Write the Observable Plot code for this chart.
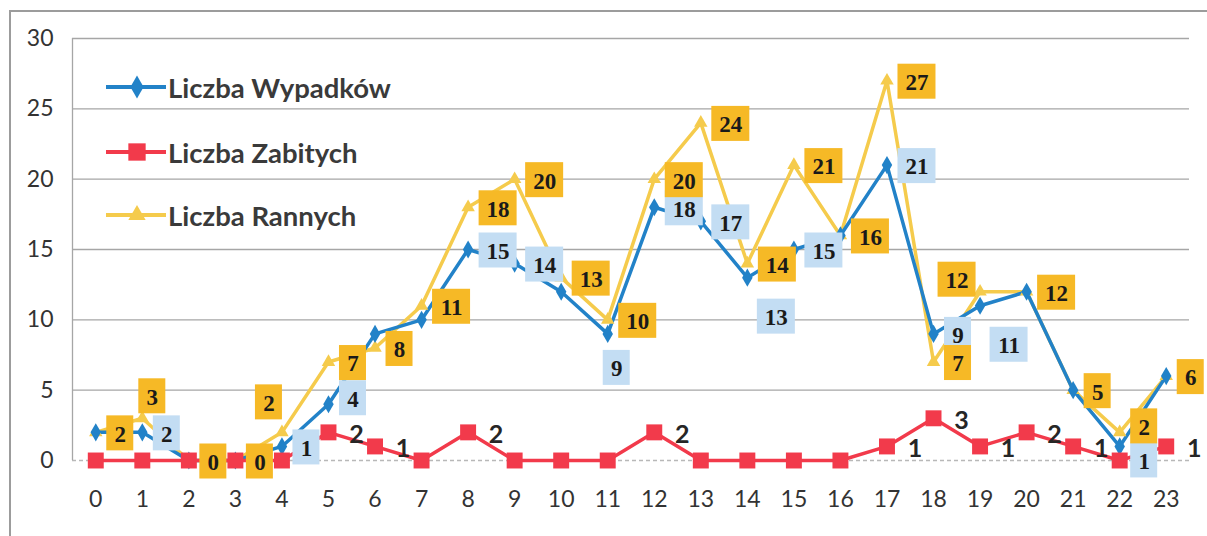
<!DOCTYPE html>
<html><head><meta charset="utf-8">
<script src="https://cdn.jsdelivr.net/npm/d3@7"></script>
<script src="https://cdn.jsdelivr.net/npm/@observablehq/plot@0.6"></script>
<style>
body{margin:0;background:#fff;}
#wrap{position:relative;width:1207px;height:536px;overflow:hidden;}
#chart svg{display:block;}
#border{position:absolute;left:9px;top:10px;right:-4px;bottom:-4px;border-left:2px solid #9c9c9c;border-top:2px solid #9c9c9c;pointer-events:none;}
#legend{position:absolute;left:106px;top:0;font-family:Lato,sans-serif;font-weight:bold;font-size:27.5px;color:#3a3a3a;}
.item{position:absolute;left:0;display:flex;align-items:center;height:32px;white-space:nowrap;}
.item svg{margin-right:2px;}
</style></head>
<body><div id="wrap"><div id="chart"></div><div id="border"></div><div id="legend"></div></div>
<script>
// ---- data ----
const hours   = [0,1,2,3,4,5,6,7,8,9,10,11,12,13,14,15,16,17,18,19,20,21,22,23];
const wypadki = [2,2,0,0,1,4,9,10,15,14,12,9,18,17,13,15,16,21,9,11,12,5,1,6];
const zabici  = [0,0,0,0,0,2,1,0,2,0,0,0,2,0,0,0,0,1,3,1,2,1,0,1];
const ranni   = [2,3,0,0,2,7,8,11,18,20,13,10,20,24,14,21,16,27,7,12,12,5,2,6];
const yTicks  = [0,5,10,15,20,25,30];
const seriesNames = ["Liczba Wypadków","Liczba Zabitych","Liczba Rannych"];
const wypadkiLabelHours = [1,4,5,8,9,11,12,13,14,15,17,18,19,22];

// ---- style ----
const C = {w:"#2282c8", z:"#f23a4b", r:"#f5cb4c", boxR:"#f6b926", boxW:"#c3ddf3"};
const xDomain = [-0.5, 23.5];
const bluePlace = {5:"rightUp", 11:"below", 14:"belowRight", 19:"belowRight", 22:"rightDown"};
const orangePlace = {1:"above", 4:"aboveLeft", 19:"upLeft", 22:"rightUp"};
function offset(place, w){
  switch(place){
    case "above": return [10,-22];
    case "aboveLeft": return [-13,-30];
    case "upLeft": return [-23,-12];
    case "below": return [9,34];
    case "belowRight": return [29,39];
    case "rightUp": return [11 + w/2, -6];
    case "rightDown": return [11 + w/2, 14];
    default: return [11 + w/2, 1];
  }
}

const rows = hours.map((h,i)=>({h, w:wypadki[i], z:zabici[i], r:ranni[i]}));

function labelMarks(sel, key, fill, placeMap){
  const groups = d3.group(sel, d => String(d[key]).length + "|" + (placeMap[d.h] || "right"));
  const marks = [];
  for (const [k, arr] of groups){
    const [len, place] = k.split("|");
    const bw = +len > 1 ? 38 : 27, bh = 35;
    const [dx, dy] = offset(place, bw);
    marks.push(Plot.rect(arr, {x1:"h", x2:"h", y1:key, y2:key,
      insetLeft:-bw/2, insetRight:-bw/2, insetTop:-bh/2, insetBottom:-bh/2, dx, dy, fill}));
    marks.push(Plot.text(arr, {x:"h", y:key, text:d=>String(d[key]), dx, dy:dy+1,
      fontFamily:"Liberation Serif", fontWeight:"bold", fontSize:23, fill:"#1a1a1a"}));
  }
  return marks;
}

const chart = Plot.plot({
  width:1207, height:536,
  marginLeft:72, marginRight:18, marginTop:38, marginBottom:76,
  style:{fontFamily:"Lato, sans-serif", fontSize:"23px", color:"#333", background:"transparent"},
  x:{domain:xDomain, ticks:hours, tickSize:0, tickPadding:30, label:null, tickFormat:d=>String(d)},
  y:{domain:[0,30], ticks:yTicks, tickSize:0, tickPadding:19, label:null},
  marks:[
    Plot.ruleY(yTicks.filter(v=>v>0), {stroke:"#a6a6a6", strokeWidth:1.3}),
    Plot.ruleY([0], {stroke:"#b8b8b8", strokeWidth:1.3, strokeDasharray:"4,3"}),
    Plot.ruleX([xDomain[0]], {y1:0, y2:30, stroke:"#a6a6a6", strokeWidth:1.3}),
    Plot.line(rows, {x:"h", y:"r", stroke:C.r, strokeWidth:3.5}),
    Plot.line(rows, {x:"h", y:"w", stroke:C.w, strokeWidth:3.5}),
    Plot.line(rows, {x:"h", y:"z", stroke:C.z, strokeWidth:3.5}),
    Plot.dot(rows, {x:"h", y:"r", symbol:"triangle", r:5, fill:C.r}),
    Plot.dot(rows, {x:"h", y:"w", symbol:"diamond", r:5.5, fill:C.w}),
    Plot.dot(rows, {x:"h", y:"z", symbol:"square", r:9, fill:C.z}),
    ...labelMarks(rows.filter(d=>wypadkiLabelHours.includes(d.h)), "w", C.boxW, bluePlace),
    ...labelMarks(rows, "r", C.boxR, orangePlace),
    Plot.text(rows.filter(d=>d.z>0), {x:"h", y:"z", text:d=>String(d.z), dx:28, dy:3,
      fontFamily:"Lato, sans-serif", fontWeight:"bold", fontSize:25, fill:"#262626"})
  ]
});
document.getElementById("chart").appendChild(chart);

// ---- legend ----
const legend = document.getElementById("legend");
const legendDefs = [
  {name:seriesNames[0], color:C.w, sym:d3.symbolDiamond, size:150, cy:87},
  {name:seriesNames[1], color:C.z, sym:d3.symbolSquare, size:300, cy:152},
  {name:seriesNames[2], color:C.r, sym:d3.symbolTriangle, size:130, cy:215}
];
for (const L of legendDefs){
  const div = document.createElement("div");
  div.className = "item";
  div.style.top = (L.cy - 16) + "px";
  const s = d3.create("svg").attr("width",60).attr("height",32);
  s.append("line").attr("x1",0).attr("x2",60).attr("y1",16).attr("y2",16)
    .attr("stroke",L.color).attr("stroke-width",4);
  s.append("path").attr("d", d3.symbol(L.sym, L.size)()).attr("transform","translate(31,16)").attr("fill",L.color);
  div.appendChild(s.node());
  const t = document.createElement("span");
  t.textContent = L.name;
  div.appendChild(t);
  legend.appendChild(div);
}
</script>
</body></html>
